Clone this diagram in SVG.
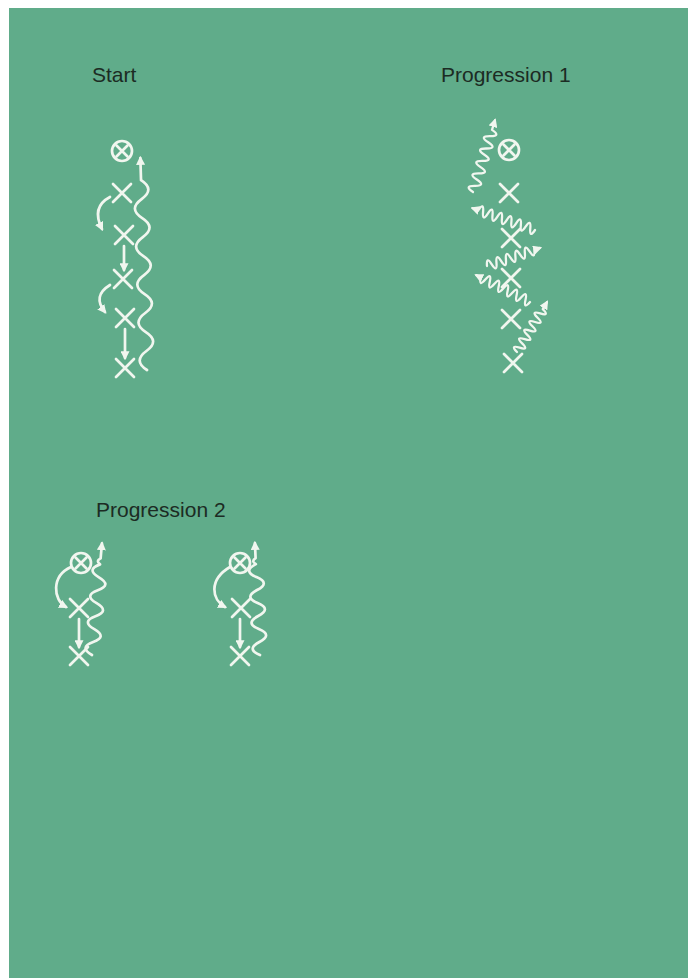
<svg xmlns="http://www.w3.org/2000/svg" width="697" height="978" viewBox="0 0 697 978">
<defs>
<style>
.t{font-family:"Liberation Sans",Arial,sans-serif;font-size:21px;fill:#1c2b23}
.s{fill:none;stroke:#f1f6ef;stroke-width:2.7;stroke-linecap:round;stroke-linejoin:round}
.w{fill:none;stroke:#f1f6ef;stroke-width:2.3;stroke-linecap:round;stroke-linejoin:round}
</style>
<marker id="ah" viewBox="0 0 8 8" refX="6" refY="4" markerWidth="9" markerHeight="9" markerUnits="userSpaceOnUse" orient="auto">
<path d="M0,0 L8,4 L0,8 z" fill="#f1f6ef"/>
</marker>
<g id="xm"><path class="s" d="M-9,-9 L9,9 M9,-9 L-9,9"/></g>
<g id="cx"><circle class="s" r="10" cx="0" cy="0"/><path class="s" d="M-5.5,-5.5 L5.5,5.5 M5.5,-5.5 L-5.5,5.5"/></g>
</defs>
<rect x="0" y="0" width="697" height="978" fill="#ffffff"/>
<rect x="9" y="8" width="679" height="970" fill="#60ac8a"/>

<text class="t" x="92" y="82">Start</text>
<text class="t" x="441" y="82">Progression 1</text>
<text class="t" x="96" y="517">Progression 2</text>

<g id="start">
<use href="#cx" x="122" y="151"/>
<use href="#xm" x="122" y="193"/>
<use href="#xm" x="124" y="235"/>
<use href="#xm" x="123" y="279"/>
<use href="#xm" x="125" y="318"/>
<use href="#xm" x="125" y="368"/>
</g>
<g id="prog1">
<use href="#cx" x="509" y="150"/>
<use href="#xm" x="509" y="193"/>
<use href="#xm" x="511" y="238"/>
<use href="#xm" x="511" y="278"/>
<use href="#xm" x="511" y="319"/>
<use href="#xm" x="513" y="363"/>
</g>
<g id="prog2a">
<use href="#cx" x="81" y="563"/>
<use href="#xm" x="79" y="608"/>
<use href="#xm" x="79" y="656"/>
</g>
<g id="prog2b">
<use href="#cx" x="240" y="563"/>
<use href="#xm" x="241" y="608"/>
<use href="#xm" x="240" y="656"/>
</g>

<g id="connectors">
<!-- Start -->
<path class="s" d="M110,197 Q91,207 102,229" marker-end="url(#ah)"/>
<path class="s" d="M124,246 L124,270" marker-end="url(#ah)"/>
<path class="s" d="M110,285 Q92,296 105,312" marker-end="url(#ah)"/>
<path class="s" d="M125,329 L125,358" marker-end="url(#ah)"/>
<path class="s" transform="translate(147,370) rotate(-91.8)" d="M0,0 q9.5,-14 19,0 t19,0 t19,0 t19,0 t19,0 t19,0 t19,0 t19,0 t19,0 t19,0 L212,0" marker-end="url(#ah)"/>
<!-- Progression 1 -->
<path class="w" transform="translate(473,192) rotate(-73)" d="M0,0 q3.25,-11 6.5,0 t6.5,0 t6.5,0 t6.5,0 t6.5,0 t6.5,0 t6.5,0 t6.5,0 t6.5,0 t6.5,0 L75,0" marker-end="url(#ah)"/>
<path class="w" transform="translate(535,230) rotate(-160.75)" d="M0,0 q2.5,-10 5,0 t5,0 t5,0 t5,0 t5,0 t5,0 t5,0 t5,0 t5,0 t5,0 t5,0 t5,0 L66,0" marker-end="url(#ah)"/>
<path class="w" transform="translate(487,266) rotate(-18.8)" d="M0,0 q2.5,-10 5,0 t5,0 t5,0 t5,0 t5,0 t5,0 t5,0 t5,0 t5,0 t5,0 L56,0" marker-end="url(#ah)"/>
<path class="w" transform="translate(530,302) rotate(-153.4)" d="M0,0 q2.5,-10 5,0 t5,0 t5,0 t5,0 t5,0 t5,0 t5,0 t5,0 t5,0 t5,0 t5,0 L60,0" marker-end="url(#ah)"/>
<path class="w" transform="translate(517,352) rotate(-59)" d="M0,0 q2.5,-10 5,0 t5,0 t5,0 t5,0 t5,0 t5,0 t5,0 t5,0 t5,0 t5,0 L58,0" marker-end="url(#ah)"/>
<!-- Progression 2 left -->
<path class="s" d="M71,567 C51,576 53,600 66,607" marker-end="url(#ah)"/>
<path class="s" d="M79,619 L79,647" marker-end="url(#ah)"/>
<path class="s" transform="translate(92,655) rotate(-84.9)" d="M0,0 q6.5,-14 13,0 t13,0 t13,0 t13,0 t13,0 t13,0 t13,0 q3,-5 6,0 L112,0" marker-end="url(#ah)"/>
<!-- Progression 2 right -->
<path class="s" d="M230,567 C208,580 212,600 225,607" marker-end="url(#ah)"/>
<path class="s" d="M240,619 L240,647" marker-end="url(#ah)"/>
<path class="s" transform="translate(260,655) rotate(-92.6)" d="M0,0 q6.5,-14 13,0 t13,0 t13,0 t13,0 t13,0 t13,0 t13,0 q3,-5 6,0 L112,0" marker-end="url(#ah)"/>
</g>
</svg>
